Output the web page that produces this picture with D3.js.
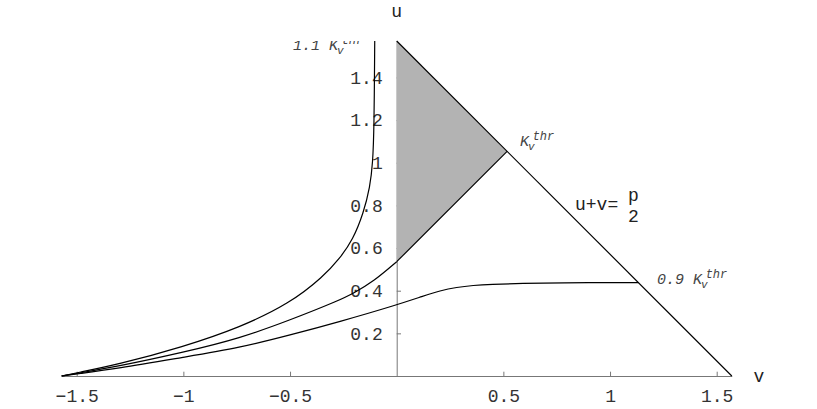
<html>
<head>
<script src="https://d3js.org/d3.v7.min.js"></script>
<style>
  body { margin: 0; background: #fff; }
  .tick text { font-family: "Liberation Mono", monospace; font-size: 18px; fill: #333; }
  .lbl { font-family: "Liberation Mono", monospace; font-style: italic; font-size: 15px; fill: #444; }
  .big { font-family: "Liberation Mono", monospace; font-size: 18px; fill: #222; }
</style>
</head>
<body>
<svg id="chart" width="817" height="409"></svg>
<script>
var HALF_PI = Math.PI / 2;

// 1.1 K_v^thr curve
var thr11V = [-1.5708, -1.5, -1.313, -1.0, -0.734, -0.5, -0.344, -0.266, -0.205, -0.156, -0.125, -0.1125, -0.106, -0.103];
var thr11U = [0, 0.015, 0.052, 0.137, 0.228, 0.341, 0.466, 0.552, 0.64, 0.763, 0.887, 0.997, 1.153, 1.5708];
// K_v^thr curve (left part) and its straight continuation
var thr10V = [-1.5708, -1.5, -1.313, -1.0, -0.734, -0.5, -0.266, -0.203, -0.11, 0];
var thr10U = [0, 0.012, 0.044, 0.111, 0.177, 0.262, 0.356, 0.388, 0.442, 0.536];
var lineV = [0, 0.5175];
var lineU = [0.536, 1.0533];
// 0.9 K_v^thr curve
var thr09V = [-1.5708, -1.5, -1.313, -1.0, -0.734, -0.5, -0.266, 0, 0.125, 0.203, 0.281, 0.359, 0.4375, 0.594, 0.75, 1.1333];
var thr09U = [0, 0.01, 0.034, 0.088, 0.133, 0.192, 0.255, 0.333, 0.375, 0.40, 0.416, 0.425, 0.43, 0.4345, 0.4375, 0.4375];
// shaded region and the u+v=pi/2 line
var shadeV = [0, 0, 0.5175];
var shadeU = [0.536, 1.5708, 1.0533];
var diagV = [0, 1.5708];
var diagU = [1.5708, 0];

var xTicks = [-1.5, -1, -0.5, 0.5, 1, 1.5];
var xTickLabels = ["\u22121.5", "\u22121", "\u22120.5", "0.5", "1", "1.5"];
var yTicks = [0.2, 0.4, 0.6, 0.8, 1, 1.2, 1.4];
var yTickLabels = ["0.2", "0.4", "0.6", "0.8", "1", "1.2", "1.4"];

var svg = d3.select("#chart");
var x = d3.scaleLinear().domain([-HALF_PI, HALF_PI]).range([61.6, 731.8]);
var y = d3.scaleLinear().domain([0, HALF_PI]).range([376, 41]);

function zip(a, b) { return a.map(function (d, i) { return [d, b[i]]; }); }

// axes
var xMinor = d3.range(-15, 16).map(function (d) { return d / 10; });
var yMinor = d3.range(1, 32).map(function (d) { return d / 20; });

var gx = svg.append("g").attr("transform", "translate(0,376)");
gx.call(d3.axisBottom(x).tickValues(xMinor).tickSizeInner(-2.3).tickSizeOuter(0).tickFormat(""));
gx.call(d3.axisBottom(x).tickValues(xTicks).tickSizeInner(-4.3).tickSizeOuter(0).tickPadding(13)
  .tickFormat(function (d, i) { return xTickLabels[i]; }));

var gy = svg.append("g").attr("transform", "translate(" + x(0) + ",0)");
gy.call(d3.axisLeft(y).tickValues(yMinor).tickSizeInner(-2.3).tickSizeOuter(0).tickFormat(""));
gy.call(d3.axisLeft(y).tickValues(yTicks).tickSizeInner(-4.3).tickSizeOuter(0).tickPadding(14)
  .tickFormat(function (d, i) { return yTickLabels[i]; }));

svg.selectAll(".domain, .tick line").attr("stroke", "#777");

svg.append("text").attr("class", "big").attr("x", x(0)).attr("y", 17).attr("text-anchor", "middle").text("u");
svg.append("text").attr("class", "big").attr("x", 759).attr("y", 382).attr("text-anchor", "middle").text("v");

// shaded region
svg.append("path")
  .attr("d", d3.line().x(function (d) { return x(d[0]); }).y(function (d) { return y(d[1]); })(zip(shadeV, shadeU)) + "Z")
  .attr("fill", "#b3b3b3").attr("stroke", "none");

var line = d3.line()
  .x(function (d) { return x(d[0]); })
  .y(function (d) { return y(d[1]); })
  .curve(d3.curveBasis);
var straight = d3.line()
  .x(function (d) { return x(d[0]); })
  .y(function (d) { return y(d[1]); });

[zip(thr11V, thr11U), zip(thr10V, thr10U), zip(thr09V, thr09U)].forEach(function (pts) {
  svg.append("path").attr("d", line(pts)).attr("fill", "none").attr("stroke", "#000").attr("stroke-width", 1.2);
});
[zip(lineV, lineU), zip(diagV, diagU)].forEach(function (pts) {
  svg.append("path").attr("d", straight(pts)).attr("fill", "none").attr("stroke", "#000").attr("stroke-width", 1.2);
});

// labels
svg.append("clipPath").attr("id", "plotclip")
  .append("rect").attr("x", 0).attr("y", y(HALF_PI)).attr("width", 817).attr("height", 409);

function kLabel(px, py, prefix, clip) {
  var t = svg.append("text").attr("class", "lbl").attr("x", px).attr("y", py);
  if (clip) t.attr("clip-path", "url(#plotclip)");
  if (prefix) t.append("tspan").text(prefix);
  t.append("tspan").text("K");
  t.append("tspan").attr("font-size", 11).attr("dx", -1).attr("dy", 4).text("v");
  t.append("tspan").attr("font-size", 12).attr("dx", -2).attr("dy", -10).text("thr");
}
kLabel(293, 50, "1.1 ", true);
kLabel(520, 146, null, false);
kLabel(657, 284, "0.9 ", false);

svg.append("text").attr("class", "big").attr("x", 575).attr("y", 210).text("u+v=");
svg.append("text").attr("class", "big").attr("x", 628).attr("y", 201).text("p");
svg.append("text").attr("class", "big").attr("x", 628).attr("y", 222).text("2");
</script>
</body>
</html>
